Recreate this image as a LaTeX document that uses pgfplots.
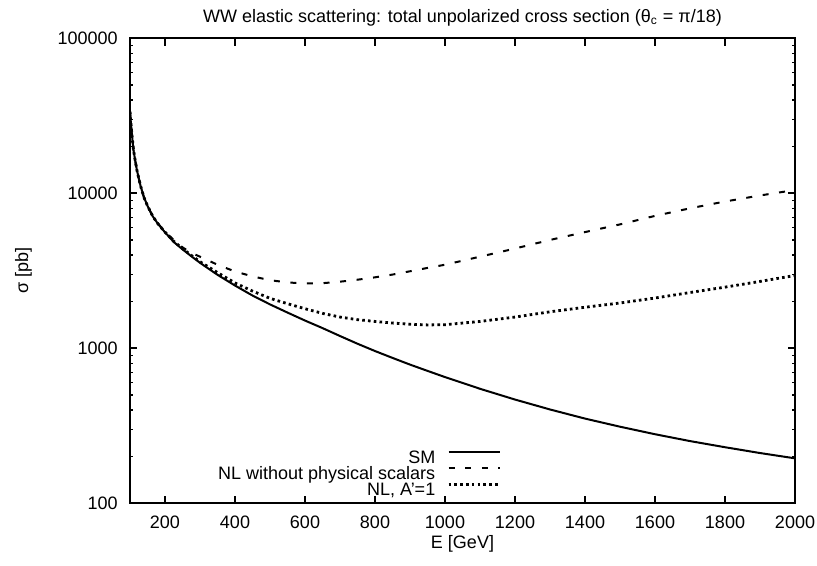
\documentclass[border=0pt]{standalone}
\usepackage{fontspec}
\setmainfont{Liberation Sans}
\usepackage{pgfplots}
\usepackage{pgfplotstable}
\pgfplotsset{compat=1.18}

% E [GeV], SM, NL without physical scalars, NL with A'=1  (sigma in pb)
\pgfplotstableread{
E     sm     nl     nla
100   33600  33600  33600
105   24500  24500  24500
110   19000  19000  19000
115   16200  16200  16200
120   14000  14000  14000
130   11200  11200  11200
140   9400   9400   9400
150   8300   8300   8300
165   7100   7100   7100
180   6350   6380   6350
200   5600   5650   5620
225   4850   5000   4900
250   4350   4480   4400
275   3930   4130   3980
300   3560   3900   3620
350   2980   3460   3080
400   2540   3130   2640
450   2190   2910   2340
500   1920   2750   2100
550   1700   2660   1940
600   1510   2620   1800
650   1350   2630   1680
700   1200   2690   1590
750   1070   2770   1530
800   960    2870   1490
850   867    2990   1455
900   785    3140   1430
950   715    3300   1415
1000  652    3460   1420
1100  548    3900   1490
1200  467    4400   1590
1300  403    5000   1720
1400  352    5620   1840
1500  312    6300   1960
1600  279    7150   2110
1700  252    8000   2290
1800  230    8850   2480
1900  211    9680   2700
2000  195    10500  2950
}\xsec

\begin{document}
\fontsize{9}{11}\selectfont
\begin{tikzpicture}
\begin{axis}[
  scale only axis,
  width=332.5pt, height=232.5pt,
  ymode=log,
  xmin=100, xmax=2000,
  ymin=100, ymax=100000,
  xtick={200,400,...,2000},
  ytick={100,1000,10000,100000},
  yticklabels={100,1000,10000,100000},
  minor ytick={200,300,400,500,600,700,800,900,2000,3000,4000,5000,6000,7000,8000,9000,20000,30000,40000,50000,60000,70000,80000,90000},
  /pgf/number format/1000 sep={},
  /pgf/number format/assume math mode=true,
  tick align=inside,
  major tick length=3.7pt,
  minor tick length=1.7pt,
  every tick/.style={black, line width=0.8pt},
  axis line style={line width=1pt},
  xticklabel style={anchor=base, yshift=-12.4pt, inner sep=0pt},
  yticklabel style={anchor=east, xshift=-6pt, inner sep=0pt},
  title={WW elastic scattering: total unpolarized cross section (θ\textsubscript{c} = π/18)},
  every axis title/.style={at={(rel axis cs:0.5,1)}, anchor=base, yshift=7.9pt},
  xlabel={E [GeV]},
  every axis x label/.style={at={(rel axis cs:0.5,0)}, anchor=base, yshift=-22.4pt},
  ylabel={σ [pb]},
  every axis y label/.style={at={(rel axis cs:0,0.5)}, xshift=-53.3pt, rotate=90, anchor=center},
  legend cell align=right,
  legend plot pos=right,
  legend style={at={(rel axis cs:0.558,0.114)}, anchor=north east, draw=none, fill=none,
    inner sep=0pt, outer sep=0pt, row sep=-0.5pt, column sep=6pt,
    nodes={inner sep=0pt, text height=6.5pt, text depth=2pt}},
  legend image code/.code={\draw[#1] (0pt,3.2pt) -- (25.5pt,3.2pt);},
]
\coordinate (sw) at (rel axis cs:0,0);
\coordinate (ne) at (rel axis cs:1,1);
\addplot[black, line width=1pt] table[x=E, y=sm] {\xsec};
\addlegendentry{SM}
\addplot[black, line width=1pt, dash pattern=on 3pt off 5.3pt] table[x=E, y=nl] {\xsec};
\addlegendentry{NL without physical scalars}
\addplot[black, line width=1.4pt, dash pattern=on 1.3pt off 1.6pt] table[x=E, y=nla] {\xsec};
\addlegendentry{NL, A’=1}
\end{axis}
\pgfresetboundingbox
\path ([shift={(-65pt,-31.35pt)}]sw) rectangle ([shift={(11pt,19.15pt)}]ne);
\end{tikzpicture}
\end{document}
